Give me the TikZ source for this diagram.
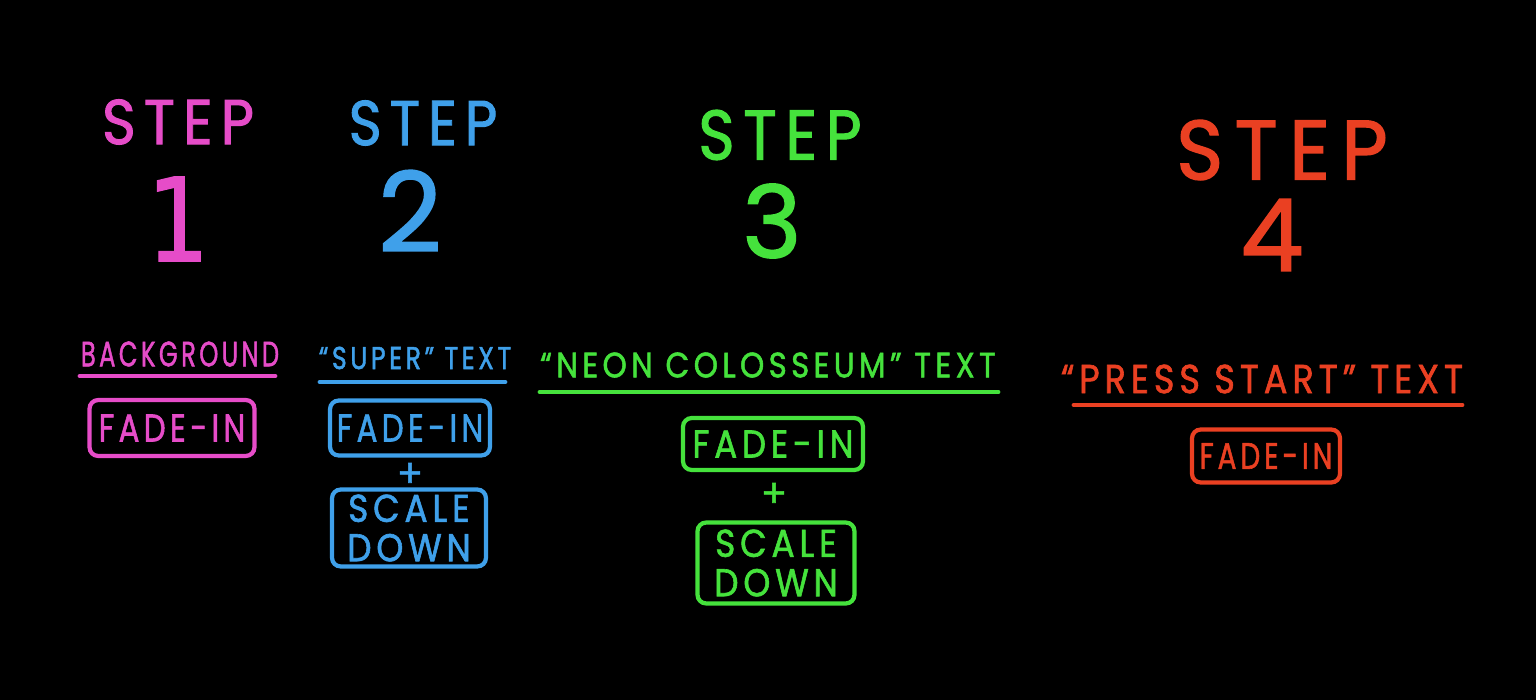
\documentclass[tikz,border=0pt]{standalone}
\usepackage{fontspec}
\usepackage{graphicx}
\newfontfamily\hand[LetterSpace=14, FakeBold=1.6]{Poppins}
\newfontfamily\handone[FakeBold=1.2]{DejaVu Sans}
\definecolor{cpink}{HTML}{E64CC8}
\definecolor{cblue}{HTML}{3FA0EA}
\definecolor{cgreen}{HTML}{45E23C}
\definecolor{cred}{HTML}{EA4022}
\newcommand{\fsz}[1]{\fontsize{#1}{1.2\dimexpr#1pt\relax}\selectfont}
\newcommand{\sx}[2]{\scalebox{#1}[1]{#2}}
\begin{document}
\begin{tikzpicture}[x=0.02cm,y=-0.02cm,
  txt/.style={inner sep=0pt, font=\hand},
  boxed/.style={draw, line width=2.4pt, rounded corners=5pt, inner sep=0pt, align=center, font=\hand, line cap=round},
  uline/.style={line width=2.8pt, line cap=round}]
\fill[black] (0,0) rectangle (1536,700);
\useasboundingbox (0,0) rectangle (1536,700);
% Step 1
\node[txt, cpink, font=\hand\fsz{36}] (s1) at (178,122) {\sx{0.91}{STEP}};
\node[txt, cpink, font=\handone\fsz{66}] (n1) at (178,219) {\sx{0.85}{1}};
\node[txt, cpink, font=\hand\fsz{20}] (h1) at (180,354) {\sx{0.69}{BACKGROUND}};
\draw[uline, cpink] (80,376) -- (275,376);
\node[boxed, cpink, font=\hand\fsz{22}, minimum width=165*0.02cm, minimum height=56*0.02cm] (b1) at (172,428) {\sx{0.8}{FADE-IN}};
% Step 2
\node[txt, cblue, font=\hand\fsz{36}] (s2) at (423,123) {\sx{0.89}{STEP}};
\node[txt, cblue, font=\hand\fsz{63}] (n2) at (410,211) {2};
\node[txt, cblue, font=\hand\fsz{18}] (h2) at (415,358) {\sx{0.8}{“SUPER” TEXT}};
\draw[uline, cblue] (320,382) -- (505,382);
\node[boxed, cblue, font=\hand\fsz{22}, minimum width=160*0.02cm, minimum height=55*0.02cm] (b2a) at (410,428) {\sx{0.8}{FADE-IN}};
\node[txt, cblue, font=\hand\fsz{22}] (p2) at (410,475) {+};
\node[boxed, cblue, font=\hand\fsz{22}, minimum width=154*0.02cm, minimum height=77*0.02cm] (b2b) at (409,528) {\sx{0.89}{SCALE}\\[-4pt]\sx{0.89}{DOWN}};
% Step 3
\node[txt, cgreen, font=\hand\fsz{40}] (s3) at (780,135) {\sx{0.88}{STEP}};
\node[txt, cgreen, font=\hand\fsz{57}] (n3) at (772,221) {3};
\node[txt, cgreen, font=\hand\fsz{20}] (h3) at (768,365) {\sx{0.88}{“NEON COLOSSEUM” TEXT}};
\draw[uline, cgreen] (540,392) -- (998,392);
\node[boxed, cgreen, font=\hand\fsz{22}, minimum width=180*0.02cm, minimum height=52*0.02cm] (b3a) at (773,444) {\sx{0.88}{FADE-IN}};
\node[txt, cgreen, font=\hand\fsz{22}] (p3) at (774,495) {+};
\node[boxed, cgreen, font=\hand\fsz{22}, minimum width=157*0.02cm, minimum height=81*0.02cm] (b3b) at (776,563) {\sx{0.89}{SCALE}\\[-4pt]\sx{0.89}{DOWN}};
% Step 4
\node[txt, cred, font=\hand\fsz{48}] (s4) at (1282,150) {\sx{0.95}{STEP}};
\node[txt, cred, font=\hand\fsz{57}] (n4) at (1272,235) {4};
\node[txt, cred, font=\hand\fsz{23}] (h4) at (1262,379) {\sx{0.87}{“PRESS START” TEXT}};
\draw[uline, cred] (1074,405) -- (1462,405);
\node[boxed, cred, font=\hand\fsz{21}, minimum width=148*0.02cm, minimum height=53*0.02cm] (b4) at (1266,456) {\sx{0.76}{FADE-IN}};
\end{tikzpicture}
\end{document}
